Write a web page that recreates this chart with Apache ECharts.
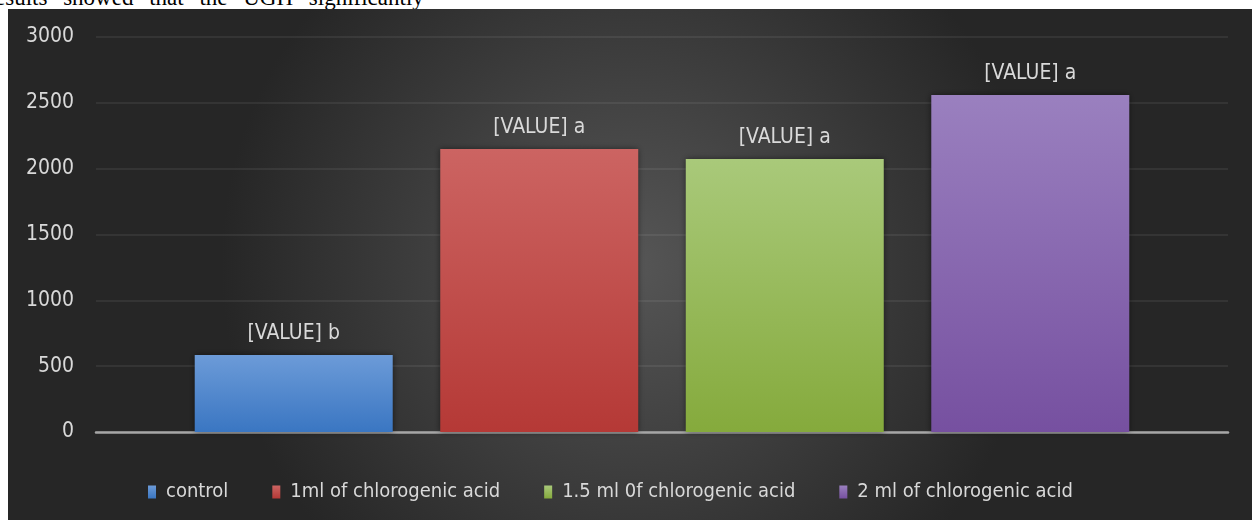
<!DOCTYPE html>
<html>
<head>
<meta charset="utf-8">
<script src="https://cdn.jsdelivr.net/npm/echarts@6/dist/echarts.min.js"></script>
<style>
  html, body { margin: 0; padding: 0; background: #ffffff; width: 1252px; height: 520px; overflow: hidden; }
  #top { position: absolute; left: 0; top: 0; width: 1252px; height: 9px; overflow: hidden; }
  #top span { position: absolute; left: -5px; top: -15px; font-family: "Liberation Serif", serif; font-size: 23px; color: #000; word-spacing: 10px; white-space: nowrap; }
  #chart { position: absolute; left: 8px; top: 9px; width: 1244px; height: 511px; }
</style>
</head>
<body>
<div id="top"><span>esults showed that the UGH significantly</span></div>
<div id="chart"></div>
<script>
const categories = [''];
const seriesNames = ['control', '1ml of chlorogenic acid', '1.5 ml 0f chlorogenic acid', '2 ml of chlorogenic acid'];
const seriesValues = [585, 2150, 2073, 2560];
const seriesLetters = ['b', 'a', 'a', 'a'];
const yTicks = [0, 500, 1000, 1500, 2000, 2500, 3000];

const topColors = ['#6c9bd8', '#cc6462', '#a9c97a', '#9a80bf'];
const bottomColors = ['#3a76c2', '#b53936', '#85aa3c', '#7650a0'];
const FONT = '"DejaVu Sans Condensed", "DejaVu Sans", sans-serif';

const chart = echarts.init(document.getElementById('chart'));
chart.setOption({
  backgroundColor: {
    type: 'radial', x: 0.5, y: 0.5, r: 0.8,
    colorStops: [{ offset: 0, color: '#565656' }, { offset: 1, color: '#262626' }]
  },
  animation: false,
  grid: { left: 88, right: 24, top: 28, bottom: 88 },
  legend: {
    bottom: 13, left: 135,
    itemWidth: 8, itemHeight: 13, itemGap: 44,
    icon: 'rect',
    textStyle: { color: '#d9d9d9', fontSize: 20, fontFamily: FONT, padding: [0, 0, 0, 5] },
    data: seriesNames
  },
  xAxis: {
    type: 'category', data: categories,
    axisLine: { lineStyle: { color: '#a6a6a6', width: 2.5 } },
    axisTick: { show: false }, axisLabel: { show: false }
  },
  yAxis: {
    type: 'value', min: yTicks[0], max: yTicks[yTicks.length - 1], interval: 500,
    axisLine: { show: false }, axisTick: { show: false },
    axisLabel: { color: '#d9d9d9', fontSize: 21, fontFamily: FONT, margin: 22, formatter: v => String(v) },
    splitLine: { lineStyle: { color: 'rgba(255,255,255,0.09)', width: 1.5 } }
  },
  series: seriesNames.map((name, i) => ({
    name, type: 'bar',
    data: [seriesValues[i]],
    barWidth: 198, barGap: '24%',
    itemStyle: {
      color: { type: 'linear', x: 0, y: 0, x2: 0, y2: 1,
        colorStops: [{ offset: 0, color: topColors[i] }, { offset: 1, color: bottomColors[i] }] },
      shadowColor: 'rgba(0,0,0,0.5)', shadowBlur: 6
    },
    label: {
      show: true, position: 'top', distance: 11,
      formatter: () => '[VALUE] ' + seriesLetters[i],
      color: '#d9d9d9', fontSize: 21, fontFamily: FONT
    }
  }))
});
</script>
</body>
</html>
